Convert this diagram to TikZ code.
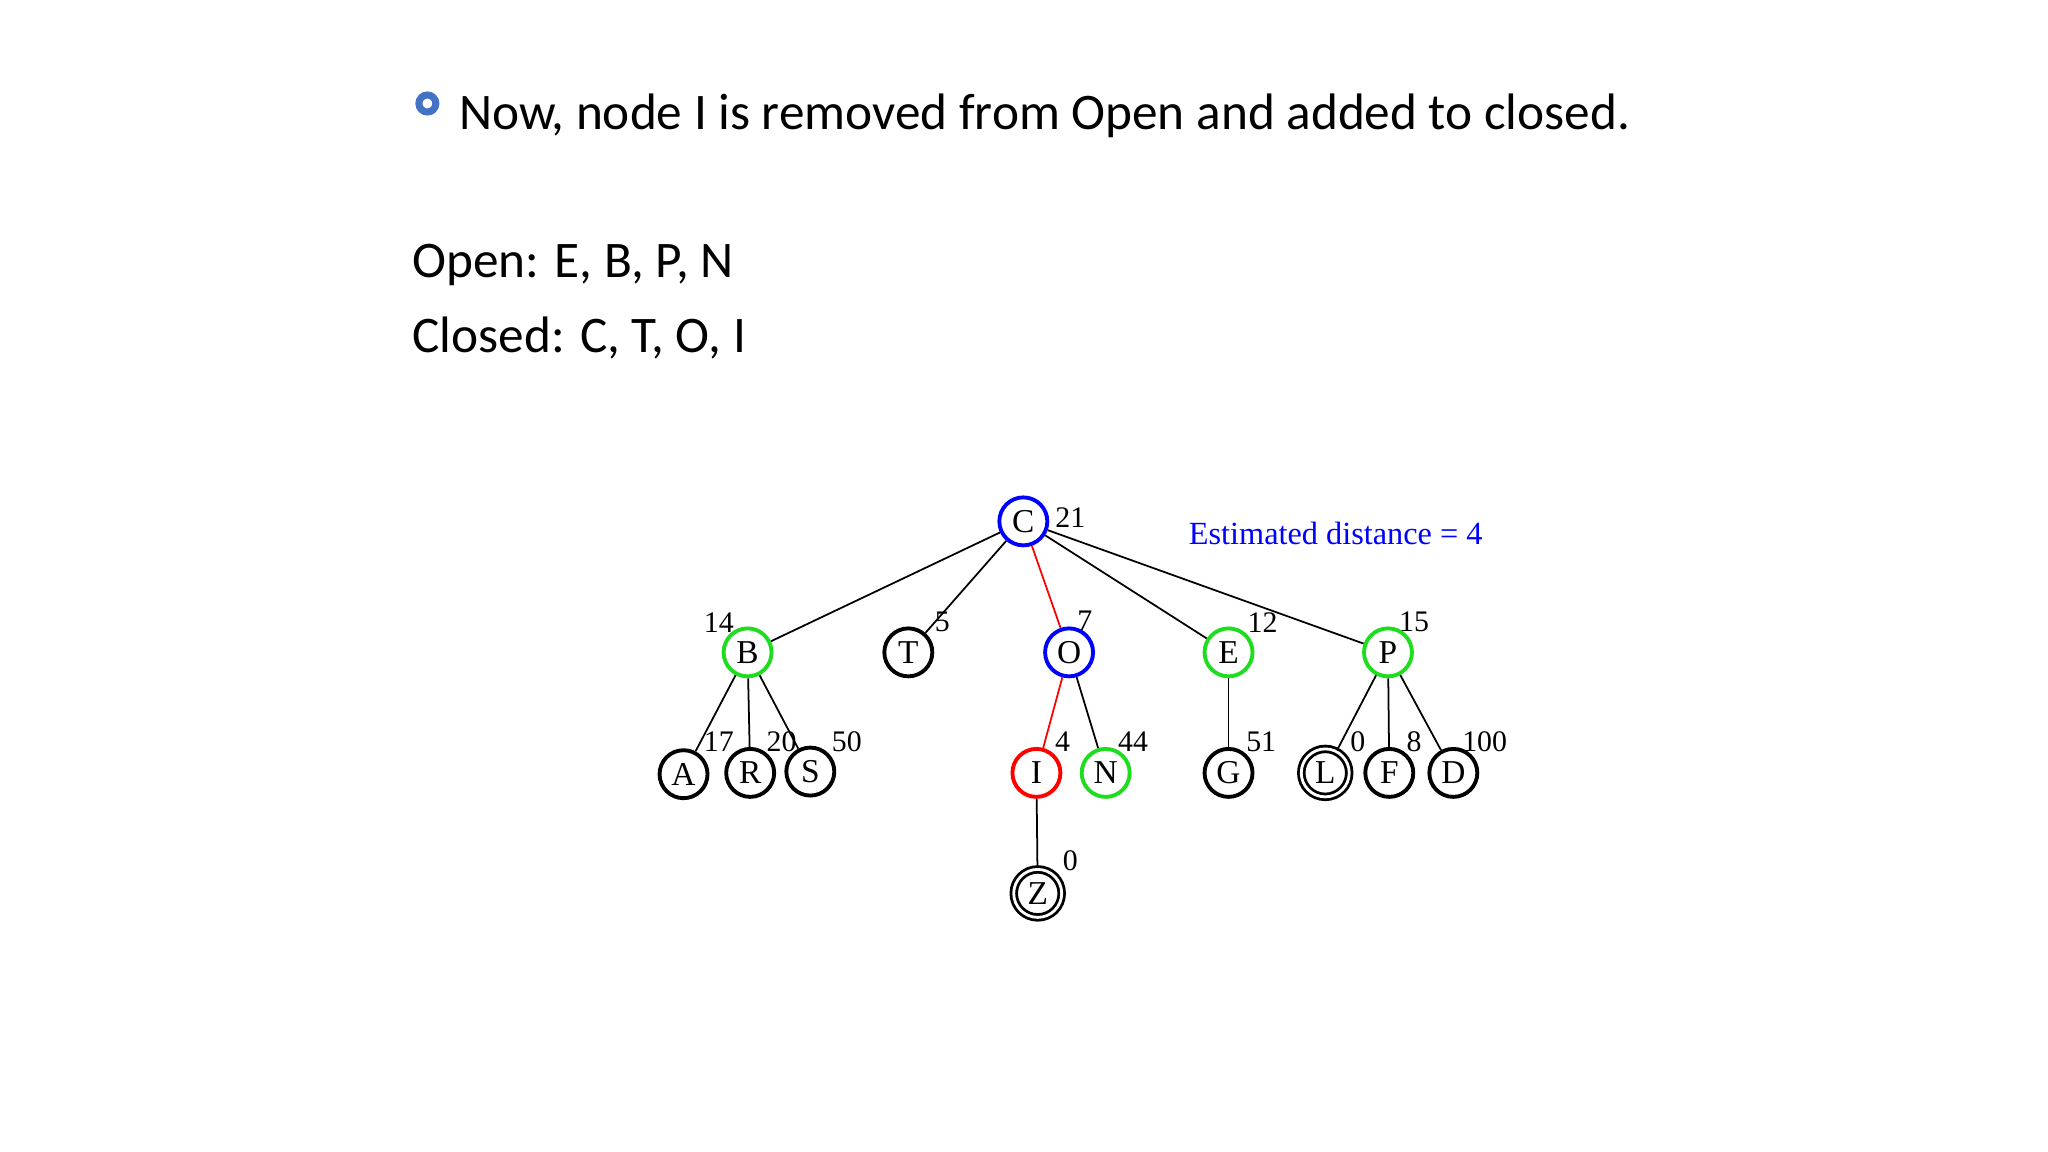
\documentclass[tikz,border=0pt]{standalone}
\usepackage{fontspec}
\setmainfont{Carlito}
\newfontfamily\treefont{Liberation Serif}
\definecolor{bulletblue}{RGB}{68,114,196}
\definecolor{visgreen}{RGB}{30,220,30}
\begin{document}
\begin{tikzpicture}[x=0.01307cm, y=-0.0131cm,
    state/.style={circle, draw, line width=1.1pt, minimum size=0.48cm, inner sep=0pt, font=\treefont\fontsize{9.5}{9.5}\selectfont},
    goal/.style={state, double, double distance=0.8pt, line width=0.8pt},
    cost/.style={font=\treefont\fontsize{8.5}{8.5}\selectfont},
    edge/.style={line width=0.5pt},
    path/.style={edge, red}]

    \useasboundingbox (0,0) rectangle (1567,879);

    % Text
    \draw[bulletblue, line width=2pt] (327,79) circle (6.5);
    \node[anchor=base west, inner sep=0pt, font=\fontsize{14.6}{18}\selectfont] (title) at (351,99) {Now, node I is removed from Open and added to closed.};
    \node[anchor=base west, inner sep=0pt, font=\fontsize{14.6}{18}\selectfont] (open) at (315,212) {Open: E, B, P, N};
    \node[anchor=base west, inner sep=0pt, font=\fontsize{14.6}{18}\selectfont] (closed) at (315,269) {Closed: C, T, O, I};

    % Tree nodes
    \node[state, blue] (C) at (783,398) {\textcolor{black}{C}};
    \node[state, visgreen] (B) at (572,498) {\textcolor{black}{B}};
    \node[state] (T) at (695,498) {T};
    \node[state, blue] (O) at (818,498) {\textcolor{black}{O}};
    \node[state, visgreen] (E) at (940,498) {\textcolor{black}{E}};
    \node[state, visgreen] (P) at (1062,498) {\textcolor{black}{P}};
    \node[state] (A) at (523,591) {A};
    \node[state] (R) at (574,590) {R};
    \node[state] (S) at (620,589) {S};
    \node[state, red] (I) at (793,590) {\textcolor{black}{I}};
    \node[state, visgreen] (N) at (846,590) {\textcolor{black}{N}};
    \node[state] (G) at (940,590) {G};
    \node[goal] (L) at (1014,590) {L};
    \node[state] (F) at (1063,590) {F};
    \node[state] (D) at (1112,590) {D};
    \node[goal] (Z) at (794,682) {Z};

    % Edges
    \foreach \a/\b in {C/B, C/T, C/E, C/P, B/A, B/R, B/S, O/N, E/G, P/L, P/F, P/D, I/Z}
        \draw[edge] (\a) -- (\b);
    \draw[path] (C) -- (O);
    \draw[path] (O) -- (I);

    % Estimates
    \foreach \x/\y/\t in {819/395/21, 550/475/14, 721/475/5, 830/474/7, 966/475/12, 1082/475/15,
        550/566/17, 598/566/20, 648/566/50, 813/566/4, 867/566/44, 965/566/51,
        1039/566/0, 1082/566/8, 1136/566/100, 819/657/0}
        \node[cost] at (\x,\y) {\t};

    \node[font=\treefont\fontsize{9.2}{9.2}\selectfont, blue] (est) at (1022,407) {Estimated distance = 4};

\end{tikzpicture}
\end{document}
